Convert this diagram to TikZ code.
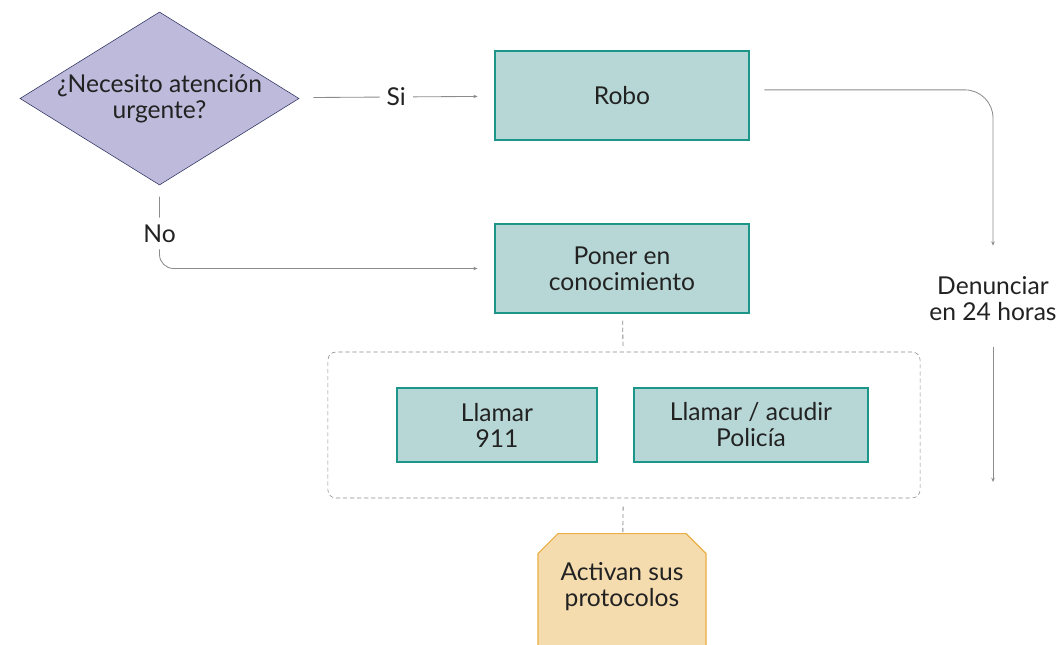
\documentclass[tikz,border=0pt]{standalone}
\usepackage{fontspec}
\setmainfont{Lato}
\usepackage{tikz}
\usetikzlibrary{shapes.geometric, shapes.misc, arrows.meta}
\definecolor{lila}{HTML}{BDBADB}
\definecolor{lilaborde}{HTML}{2F3560}
\definecolor{verde}{HTML}{B7D7D6}
\definecolor{verdeborde}{HTML}{1D968A}
\definecolor{naranja}{HTML}{F5DCAF}
\definecolor{naranjaborde}{HTML}{EBAE45}
\definecolor{linea}{HTML}{8C8C8C}
\definecolor{texto}{HTML}{222222}
\tikzstyle{decision} = [diamond, aspect=1.6, inner sep=-12pt, minimum width=6.975cm, minimum height=4.325cm, align=center, draw=lilaborde, fill=lila]
\tikzstyle{process} = [rectangle, minimum width=6.35cm, minimum height=2.225cm, align=center, draw=verdeborde, fill=verde, line width=0.8pt]
\tikzstyle{action} = [rectangle, minimum height=1.85cm, align=center, draw=verdeborde, fill=verde, line width=0.8pt]
\tikzstyle{result} = [chamfered rectangle, chamfered rectangle corners={north west, north east}, chamfered rectangle xsep=0.25cm, chamfered rectangle ysep=0.25cm, minimum width=4.2cm, minimum height=3.6cm, text depth=1.05cm, align=center, draw=naranjaborde, fill=naranja, line width=0.8pt]
\tikzstyle{group} = [rectangle, rounded corners=0.2cm, minimum width=14.8cm, minimum height=3.65cm, draw=linea, dash pattern=on 3pt off 2pt]
\tikzstyle{etiqueta} = [fill=white, inner sep=5pt, text=texto]
\tikzstyle{arrow} = [draw=linea, line width=0.6pt, -{Stealth[length=3pt, width=2.5pt]}]
\tikzstyle{link} = [draw=linea, line width=0.6pt, dash pattern=on 3pt off 2pt]

\begin{document}
\begin{tikzpicture}[x=0.025cm, y=-0.025cm, font=\fontsize{17.5}{18.5}\selectfont, text=texto]
	\useasboundingbox (0,0) rectangle (1062,644);
	\node[decision](pregunta) at (159.5,98.5){¿Necesito atención\\urgente?};
	\node[process](robo) at (622,95.5){Robo};
	\node[process](poner) at (622,268.5){Poner en\\conocimiento};
	\node[group](grupo) at (624,425){};
	\node[action, minimum width=5cm](llamar) at (497,425){Llamar\\911};
	\node[action, minimum width=5.85cm](policia) at (751,425){Llamar / acudir\\Policía};
	\node[result, anchor=north](activan) at (622,533){Activan sus\\protocolos};
	\node[align=center, inner sep=0pt](denuncia) at (993,299){Denunciar\\en 24 horas};
	\coordinate (fin) at (993,482);
	
	\draw[arrow, shorten <=11pt, shorten >=12pt] (pregunta) -- node[etiqueta]{Si} (robo);
	\draw[arrow, rounded corners=10pt, shorten <=8pt, shorten >=12pt] (pregunta.south) |- node[etiqueta, pos=0.29]{No} (poner.west);
	\draw[arrow, rounded corners=20pt, shorten <=10.5pt, shorten >=22pt] ([yshift=4pt]robo.east) -| (denuncia.north);
	\draw[arrow, shorten <=18pt] (denuncia.south) -- (fin);
	\draw[link, shorten <=5pt, shorten >=3pt] (poner) -- (grupo);
	\draw[link, shorten <=6pt] (grupo) -- (activan);
\end{tikzpicture}
\end{document}
